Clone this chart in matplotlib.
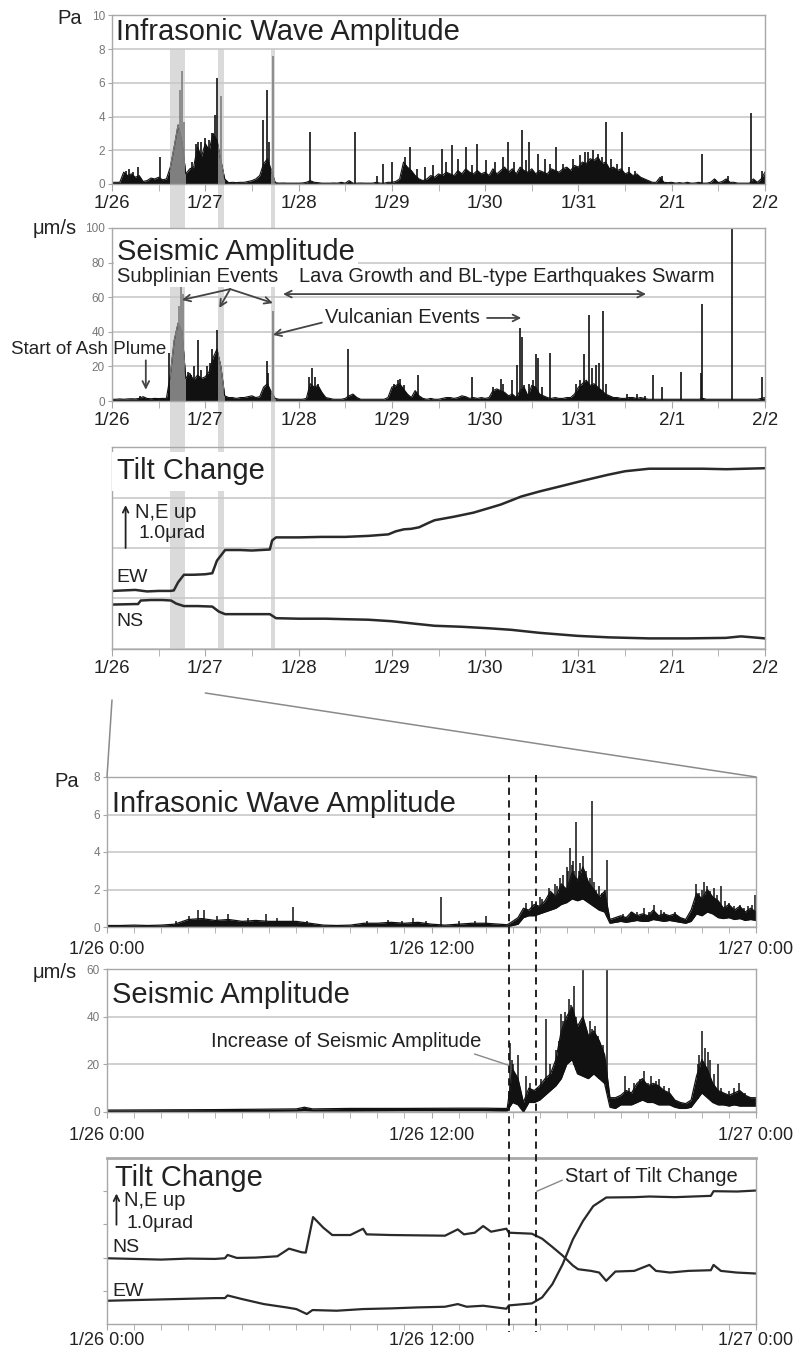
import matplotlib.pyplot as plt
import matplotlib.transforms as mtransforms
from matplotlib.patches import Rectangle, ConnectionPatch
from matplotlib.lines import Line2D
import numpy as np

plt.rcParams['font.family'] = ['Liberation Sans', 'DejaVu Sans']

W, H = 801, 1355

# ---------------- week panels: hours from 1/26 0:00 ----------------
week_ticks = [0, 24, 48, 72, 96, 120, 144, 168]
week_labels = ['1/26', '1/27', '1/28', '1/29', '1/30', '1/31', '2/1', '2/2']
bands = [(14.9, 18.9), (27.3, 28.9), (40.9, 42.0)]
week_hours = np.arange(169)

# infrasonic amplitude (Pa), hourly level of the dense trace
infra_week = [0.1, 0.1, 0.1, 0.7, 0.5, 0.6, 0.4, 0.5, 0.15, 0.2, 0.35, 0.3, 0.4, 0.25, 0.3, 1.0, 2.2, 3.5, 2.5, 0.6, 0.9, 1.0, 2.2, 1.6,
              2.4, 2.0, 3.0, 2.6, 1.4, 0.3, 0.08, 0.1, 0.08, 0.1, 0.1, 0.15, 0.2, 0.3, 0.5, 1.2, 1.5, 0.8, 0.08, 0.05, 0.06, 0.05, 0.05, 0.05,
              0.05, 0.06, 0.1, 0.2, 0.1, 0.08, 0.05, 0.05, 0.05, 0.06, 0.05, 0.1, 0.05, 0.2, 0.05, 0.05, 0.06, 0.05, 0.05, 0.05, 0.1, 0.05, 0.05, 0.1,
              0.1, 0.15, 0.3, 1.3, 1.0, 0.8, 0.5, 0.3, 0.2, 0.3, 0.5, 0.4, 0.6, 0.5, 0.7, 0.6, 0.5, 0.8, 0.6, 0.9, 0.7, 0.6, 0.8, 0.6,
              0.7, 0.5, 0.9, 0.6, 0.8, 1.0, 0.7, 0.9, 0.6, 1.0, 0.8, 0.7, 0.9, 0.6, 0.8, 0.7, 0.6, 0.9, 0.8, 0.7, 0.9, 1.0, 0.8, 1.1,
              1.0, 1.3, 1.2, 1.5, 1.4, 1.6, 1.2, 1.3, 0.9, 1.0, 0.8, 0.9, 0.6, 0.7, 0.5, 0.6, 0.4, 0.3, 0.2, 0.1, 0.1, 0.4, 0.1, 0.08,
              0.1, 0.05, 0.08, 0.05, 0.1, 0.05, 0.06, 0.1, 0.05, 0.05, 0.1, 0.3, 0.08, 0.15, 0.3, 0.1, 0.1, 0.05, 0.05, 0.05, 0.05, 0.3, 0.1, 0.3, 0.7]
infra_spike_t = [3.5, 4.5, 5.5, 6.8, 12.3, 17.5, 18.1, 18.6, 20.5, 21.5, 22.0, 23.0, 24.0, 25.0, 25.8, 26.5, 27.0, 28.0,
                 38.9, 39.8, 40.3, 41.3, 50.9, 62.5, 68.1, 69.6, 72.1, 75.5, 76.6, 78.5, 80.5, 82.5, 84.8, 86.0, 87.4,
                 89.0, 91.1, 92.5, 94.0, 96.2, 98.5, 100.5, 101.8, 103.5, 105.4, 106.5, 107.3, 109.7, 111.4, 112.8,
                 114.2, 116.1, 118.5, 120.5, 121.7, 122.5, 123.8, 125.1, 126.0, 127.1, 128.5, 130.0, 131.3, 133.0,
                 134.5, 141.4, 151.9, 155.1, 158.5, 164.5, 167.1]
infra_spike_v = [0.8, 0.9, 0.7, 1.0, 1.6, 5.6, 6.7, 3.7, 1.3, 2.4, 2.5, 2.5, 2.7, 2.6, 3.0, 4.1, 6.3, 5.2,
                 3.8, 5.6, 2.5, 7.6, 3.1, 3.1, 0.5, 1.2, 1.3, 1.6, 2.2, 0.9, 1.0, 1.1, 2.1, 1.3, 2.3,
                 1.5, 2.2, 1.1, 2.4, 1.4, 1.3, 1.6, 2.5, 1.3, 3.2, 1.4, 2.5, 1.8, 1.5, 1.2,
                 2.2, 1.2, 1.5, 1.7, 1.9, 1.9, 2.0, 1.8, 1.6, 3.7, 1.5, 1.2, 3.1, 1.0,
                 0.8, 0.5, 1.8, 0.3, 0.5, 4.2, 0.8]

# seismic amplitude (um/s), hourly level
seis_week = [1.0, 1.0, 1.2, 1.0, 1.2, 1.3, 1.2, 1.5, 2.5, 1.5, 1.3, 1.5, 1.4, 1.5, 1.5, 15, 35, 45, 40, 13, 16, 12, 15, 13,
             14, 17, 25, 30, 20, 3, 2, 2, 1.5, 2, 2, 2.5, 3, 2, 2.5, 8, 10, 5, 1.5, 1, 1, 1, 1, 1,
             1, 1, 1.5, 10, 8, 9, 5, 2, 1.5, 1, 1, 1, 1.5, 3, 4, 2, 1, 1, 1, 1, 1, 1, 1, 2,
             8, 9, 10, 7, 4, 2, 6, 3, 1.5, 1, 1.5, 1, 1, 1.5, 2, 2, 1.5, 2, 3, 2.5, 1.5, 2, 1.5, 2,
             1.5, 2, 6, 7, 6, 5, 3, 4, 2, 6, 8, 3, 9, 8, 4, 3, 2, 1.5, 2, 1.5, 1.5, 2, 2, 4,
             8, 10, 12, 9, 10, 8, 6, 4, 3, 2, 2, 1.5, 1.5, 2, 2, 1.5, 2, 1.5, 1, 1, 1, 1, 1, 1,
             1, 1, 1, 1, 1, 1, 1, 1, 1.5, 1, 1, 1, 1, 1, 1, 1, 1, 1, 1, 1, 1, 1, 1, 1.5, 2]
seis_spike_t = [7.2, 14.7, 16.6, 17.3, 17.8, 18.3, 19.5, 20.3, 21.0, 22.2, 23.0, 24.5, 25.3, 25.8, 26.9,
                39.8, 40.2, 41.3, 50.8, 51.5, 52.3, 53.0, 60.8, 72.5, 73.5, 74.2, 75.0, 78.8, 92.5, 98.0, 100.0,
                100.5, 103.0, 104.1, 104.9, 105.4, 106.0, 107.3, 108.2, 109.2, 109.6, 110.5, 112.8, 119.5, 120.5,
                121.5, 122.6, 123.6, 124.5, 125.3, 126.2, 127.2, 132.5, 135.0, 137.0, 139.2, 141.5, 146.4,
                151.5, 151.9, 159.4, 167.3]
seis_spike_v = [3, 28, 40, 55, 66, 62, 17, 15, 20, 35, 18, 20, 22, 30, 41,
                23, 16, 52, 14, 19, 14, 10, 30, 10, 12, 13, 9, 15, 14, 8, 13,
                10, 12, 21, 42, 37, 9, 10, 12, 27, 25, 8, 28, 10, 12,
                27, 50, 19, 21, 22, 52, 10, 4, 4, 3, 15, 8, 17,
                16, 56, 100, 14]

# tilt (grid units)
ew_week_t = [0, 3, 6, 9, 12, 15, 15.9, 17, 18.5, 21, 24, 25.8, 27, 29.1, 33, 36, 40.6, 41.2, 42.2, 48, 54, 60, 66, 71.1,
             73, 75.1, 77, 79, 81.5, 83, 88, 93, 97.4, 100, 103, 105.3, 110, 115.8, 121, 127.6, 132, 138.2, 145, 152, 158, 163, 168]
ew_week = [1.15, 1.16, 1.17, 1.14, 1.15, 1.15, 1.16, 1.32, 1.47, 1.47, 1.48, 1.50, 1.75, 1.96, 1.96, 1.95, 1.97, 2.15, 2.21,
           2.21, 2.22, 2.22, 2.24, 2.27, 2.33, 2.37, 2.38, 2.41, 2.50, 2.55, 2.62, 2.70, 2.80, 2.86, 2.95, 3.02, 3.12, 3.23,
           3.33, 3.45, 3.52, 3.57, 3.57, 3.57, 3.56, 3.57, 3.58]
ns_week_t = [0, 3, 6, 6.7, 7.4, 10, 13, 15.2, 16.5, 18.5, 22, 25.8, 27.5, 29.1, 34, 40.6, 42.2, 48, 55, 60, 65.9, 72, 78, 83,
             90, 97, 102.7, 110, 119.8, 128, 138.2, 148, 157.9, 161.8, 165, 168]
ns_week = [0.88, 0.885, 0.89, 0.89, 0.96, 0.97, 0.97, 0.96, 0.90, 0.85, 0.85, 0.84, 0.74, 0.69, 0.69, 0.69, 0.61, 0.60,
           0.60, 0.59, 0.58, 0.55, 0.50, 0.46, 0.44, 0.41, 0.38, 0.32, 0.26, 0.23, 0.21, 0.21, 0.22, 0.25, 0.23, 0.21]

# ---------------- day panels: hours from 1/26 0:00 ----------------
day_ticks = [0, 12, 24]
day_labels = ['1/26 0:00', '1/26 12:00', '1/27 0:00']
dashed_t = [14.85, 15.88]

infra_day_t = np.concatenate([np.arange(0, 14.6, 0.5), [14.8], np.arange(15.0, 24.01, 0.2)])
infra_day_hi = [0.08, 0.08, 0.1, 0.08, 0.1, 0.15, 0.4, 0.45, 0.35, 0.4, 0.3, 0.35, 0.3, 0.3, 0.3, 0.2, 0.1, 0.08, 0.1, 0.2,
                0.2, 0.25, 0.2, 0.25, 0.15, 0.1, 0.15, 0.2, 0.2, 0.15, 0.12,
                0.3, 0.5, 1.0, 0.9, 1.2, 1.1, 1.4, 1.9, 1.6, 2.3, 2.0, 2.9, 2.5, 3.2, 2.4, 2.0, 1.6, 1.9, 0.4, 0.5,
                0.6, 0.5, 0.8, 0.6, 0.7, 0.6, 0.9, 0.6, 0.7, 0.6, 0.7, 0.5, 0.4, 0.9, 1.8, 1.5, 2.0, 1.6, 1.4, 1.0,
                1.2, 0.9, 1.1, 0.8, 1.0, 0.8]
infra_day_lo = [0.02, 0.02, 0.02, 0.02, 0.02, 0.02, 0.05, 0.05, 0.05, 0.05, 0.05, 0.05, 0.05, 0.05, 0.05, 0.02, 0.02, 0.02,
                0.02, 0.02, 0.02, 0.02, 0.02, 0.02, 0.02, 0.02, 0.02, 0.02, 0.02, 0.02, 0.02,
                0.08, 0.15, 0.5, 0.6, 0.6, 0.7, 0.8, 0.9, 1.0, 1.2, 1.3, 1.5, 1.4, 1.5, 1.3, 1.1, 0.9, 0.8, 0.2, 0.25,
                0.3, 0.25, 0.3, 0.35, 0.3, 0.3, 0.4, 0.35, 0.3, 0.35, 0.3, 0.25, 0.2, 0.3, 0.7, 0.6, 0.8, 0.7, 0.5, 0.45,
                0.5, 0.4, 0.45, 0.35, 0.4, 0.35]
infra_day_spike_t = [2.56, 3.04, 3.36, 3.6, 4.08, 4.49, 5.2, 5.87, 6.3, 6.86, 7.39, 9.6, 10.4, 10.9, 11.3, 11.8, 12.35, 13.0,
                     13.6, 14.0, 15.3, 15.5, 15.7, 16.0, 16.1, 16.35, 16.55, 16.65, 16.75, 16.85, 17.0, 17.05, 17.12,
                     17.18, 17.22, 17.28, 17.33, 17.45, 17.5, 17.59, 17.65, 17.72, 17.77, 17.85, 17.94, 18.02, 18.1, 18.2,
                     18.3, 18.4, 18.48, 19.1, 19.37, 19.6, 19.86, 20.05, 20.23, 20.5, 20.6, 21.0, 21.7, 21.78, 21.9, 22.0,
                     22.09, 22.2, 22.3, 22.46, 22.55, 22.7, 22.85, 23.0, 23.2, 23.4, 23.55, 23.7, 23.85, 23.98]
infra_day_spike_v = [0.3, 0.6, 0.9, 0.9, 0.6, 0.7, 0.5, 0.7, 0.5, 1.05, 0.3, 0.3, 0.4, 0.3, 0.5, 0.3, 1.6, 0.3,
                     0.3, 0.6, 0.6, 1.3, 1.4, 1.6, 1.5, 2.1, 2.3, 2.2, 2.6, 2.8, 3.2, 3.0, 4.2,
                     3.3, 3.5, 3.0, 5.6, 3.0, 3.4, 3.8, 2.8, 3.0, 2.0, 2.6, 6.7, 2.4, 2.0, 2.2,
                     1.8, 2.0, 3.6, 0.7, 0.8, 0.8, 1.0, 0.8, 1.2, 0.9, 0.8, 0.8, 1.2, 2.3, 1.8, 2.0,
                     2.4, 2.2, 1.9, 2.1, 1.7, 2.2, 1.4, 1.3, 1.1, 1.2, 1.0, 1.1, 1.2, 1.7]

seis_day_t = np.concatenate([[0, 2, 4, 6, 7, 7.3, 7.6, 9, 11, 13, 14, 14.6], np.arange(14.8, 24.01, 0.2)])
seis_day_hi = [0.8, 0.9, 1.0, 1.2, 1.3, 2.0, 1.3, 1.5, 1.5, 1.6, 1.6, 1.5,
               1.5, 18, 14, 4, 10, 9, 11, 14, 16, 22, 34, 40, 44, 36, 40, 32, 34, 30, 24, 6, 6, 7, 9, 8, 12, 14,
               11, 12, 11, 9, 8, 5, 4, 3.5, 5, 15, 22, 18, 12, 9, 8, 7, 8, 9, 7, 6, 6]
seis_day_lo = [0, 0.2, 0.3, 0.4, 0.5, 0.6, 0.5, 0.5, 0.6, 0.6, 0.6, 0.5,
               0.5, 4, 3, 0, 4, 4, 5, 7, 9, 11, 14, 20, 22, 16, 15, 14, 16, 14, 12, 2, 1.5, 3, 3, 3, 4, 5,
               4, 4, 3, 3, 3, 2, 1.5, 1.5, 2, 5, 8, 6, 4, 3, 3, 2.5, 3, 2.5, 2.5, 2.5, 2.5]
seis_day_spike_t = [14.92, 14.96, 15.0, 15.08, 15.1, 15.21, 15.3, 15.51, 15.65, 15.75, 15.89, 16.05, 16.22, 16.4, 16.5,
                    16.6, 16.7, 16.78, 16.88, 16.95, 17.09, 17.15, 17.27, 17.35, 17.4, 17.5, 17.62, 17.7, 17.77, 17.85,
                    17.95, 18.05, 18.14, 18.2, 18.26, 18.35, 18.48, 19.15, 19.3, 19.5, 19.7, 19.86, 20.0, 20.1, 20.3,
                    20.4, 20.6, 20.79, 21.84, 21.9, 22.02, 22.1, 22.21, 22.3, 22.45, 22.58, 22.7, 23.0, 23.2, 23.38, 23.6]
seis_day_spike_v = [28.8, 22, 20, 12, 14, 24, 8, 15, 12, 8, 10, 14, 39, 20, 17,
                    26, 30, 41, 38, 42, 47.5, 45, 53, 40, 30, 36, 62, 34, 30, 38,
                    35, 36, 32, 30, 25, 28, 62, 15, 10, 12, 14, 17, 12, 15, 13,
                    14, 11, 10, 20, 24, 34, 27, 25, 22, 16, 20, 10, 9, 10, 12, 8]

ns_day_t = [0, 1, 2, 3, 4, 4.36, 4.46, 4.8, 5.5, 6.3, 6.73, 7.2, 7.35, 7.62, 8.0, 8.33, 9.0, 9.47, 9.6, 10.5, 11.5, 12.5,
            12.97, 13.2, 13.6, 13.91, 14.2, 14.77, 14.86, 15.71, 16.09, 16.47, 16.85, 17.23, 17.42, 17.9, 18.2, 18.46,
            18.8, 19.5, 20.06, 20.3, 20.82, 21.5, 22.33, 22.43, 22.7, 23.28, 24]
ns_day = [1.98, 1.96, 1.94, 1.97, 1.96, 1.98, 2.08, 1.99, 2.0, 2.04, 2.27, 2.16, 2.15, 3.22, 2.9, 2.68, 2.68, 2.87, 2.7,
          2.68, 2.67, 2.66, 2.85, 2.7, 2.75, 2.95, 2.78, 2.87, 2.75, 2.72, 2.57, 2.32, 2.06, 1.76, 1.65, 1.6, 1.55, 1.3,
          1.58, 1.6, 1.78, 1.6, 1.55, 1.6, 1.62, 1.78, 1.6, 1.55, 1.52]
ew_day_t = [0, 1, 2, 3, 4, 4.36, 4.46, 5.0, 5.8, 6.63, 7.0, 7.39, 7.6, 8.5, 9.47, 10.5, 11.5, 12.5, 12.97, 13.3, 13.91,
            14.77, 14.86, 15.71, 16.09, 16.47, 16.85, 17.23, 17.6, 17.98, 18.46, 19.5, 20.06, 21, 22.33, 22.43, 23.3, 24]
ew_day = [0.70, 0.72, 0.74, 0.76, 0.78, 0.78, 0.86, 0.75, 0.6, 0.5, 0.45, 0.30, 0.42, 0.40, 0.45, 0.47, 0.50, 0.52,
          0.60, 0.52, 0.55, 0.46, 0.56, 0.62, 0.80, 1.20, 1.80, 2.55, 3.1, 3.55, 3.81, 3.82, 3.84, 3.82, 3.86, 4.0, 3.99, 4.02]

# ---------------- drawing ----------------
black = '#111111'
gray_data = '#7f7f7f'
band_c = '#dadada'
grid_c = '#c8c8c8'
spine_c = '#a8a8a8'
txt_c = '#222222'

fig = plt.figure(figsize=(W / 100, H / 100), dpi=100)


def add_ax(l, t, r, b):
    ax = fig.add_axes([l / W, 1 - b / H, (r - l) / W, (b - t) / H])
    ax.set_facecolor('none')
    ax.set_axisbelow(True)
    for s in ax.spines.values():
        s.set_color(spine_c)
        s.set_linewidth(1.0)
    return ax


def fig_text(x, y, s, **kw):
    fig.text(x / W, 1 - y / H, s, color=txt_c, **kw)


ax1 = add_ax(112, 15.3, 765, 184)
ax2 = add_ax(112, 228, 765, 401)
ax3 = add_ax(112, 447, 765, 649)
ax4 = add_ax(107, 777, 756, 927)
ax5 = add_ax(107, 969, 756, 1112)
ax6 = add_ax(107, 1158, 756, 1324)

for ax in (ax1, ax2, ax3):
    ax.set_xlim(0, 168)
    ax.set_xticks(week_ticks)
    ax.set_xticklabels(week_labels)
    ax.set_xticks(np.arange(12, 168, 24), minor=True)
    ax.tick_params(axis='x', which='both', direction='out', length=5, color=spine_c,
                   labelsize=13.5, pad=3, labelcolor=txt_c)

for ax, pad in ((ax4, 6), (ax5, 7), (ax6, 2)):
    ax.set_xlim(0, 24)
    ax.set_xticks(day_ticks)
    ax.set_xticklabels(day_labels)
    ax.set_xticks(np.arange(1, 24), minor=True)
    ax.tick_params(axis='x', which='both', direction='out', length=4, color=spine_c,
                   labelsize=13, pad=pad, labelcolor=txt_c)

for ax, top, step in ((ax1, 10, 2), (ax2, 100, 20), (ax4, 8, 2), (ax5, 60, 20)):
    ax.set_ylim(0, top)
    ax.set_yticks(np.arange(0, top + 1, step))
    ax.tick_params(axis='y', direction='out', length=3, color=spine_c, labelsize=8.5,
                   labelcolor='#777777', pad=2)
    ax.grid(axis='y', color=grid_c, lw=1.2)

ax3.set_ylim(0, 4)
ax3.set_yticks([0, 1, 2, 3, 4])
ax3.set_yticklabels([])
ax3.tick_params(axis='y', length=0)
ax3.grid(axis='y', color=grid_c, lw=1.2)

ax6.set_ylim(0, 5)
ax6.set_yticks([1, 2, 3, 4])
ax6.set_yticklabels([])
ax6.tick_params(axis='y', direction='out', length=3, color=spine_c)
ax6.spines['top'].set_linewidth(2)

# shaded eruption bands behind the three week panels
blend_w = mtransforms.blended_transform_factory(ax1.transData, fig.transFigure)
for a, b in bands:
    for y_top, y_bot in ((49, 228), (287, 649)):
        fig.add_artist(Rectangle((a, 1 - y_bot / H), b - a, (y_bot - y_top) / H,
                                 transform=blend_w, color=band_c, lw=0, zorder=-1))


def in_band(t):
    return any(a <= t <= b for a, b in bands)


def week_trace(ax, level, spike_t, spike_v, top):
    ax.fill_between(week_hours, 0, level, color=black, lw=0)
    ax.plot(week_hours, level, color=black, lw=0.8)
    for a, b in bands:
        clip = Rectangle((a, -1), b - a, top + 2, transform=ax.transData)
        p = ax.fill_between(week_hours, 0, level, color=gray_data, lw=0)
        p.set_clip_path(clip)
        ln, = ax.plot(week_hours, level, color=gray_data, lw=0.8)
        ln.set_clip_path(clip)
    cols = [gray_data if in_band(t) else black for t in spike_t]
    ax.vlines(spike_t, 0, spike_v, colors=cols, lw=1.2)


week_trace(ax1, infra_week, infra_spike_t, infra_spike_v, 10)
week_trace(ax2, seis_week, seis_spike_t, seis_spike_v, 100)

ax3.plot(ew_week_t, ew_week, color='#2a2a2a', lw=1.8)
ax3.plot(ns_week_t, ns_week, color='#2a2a2a', lw=1.8)


def day_trace(ax, t, lo, hi, spike_t, spike_v):
    ax.fill_between(t, lo, hi, color=black, lw=0)
    ax.plot(t, hi, color=black, lw=0.9)
    ax.plot(t, lo, color=black, lw=0.9)
    base = np.interp(spike_t, t, lo)
    ax.vlines(spike_t, base, spike_v, colors=black, lw=1.1)


day_trace(ax4, infra_day_t, infra_day_lo, infra_day_hi, infra_day_spike_t, infra_day_spike_v)
day_trace(ax5, seis_day_t, seis_day_lo, seis_day_hi, seis_day_spike_t, seis_day_spike_v)
ax6.plot(ns_day_t, ns_day, color='#2a2a2a', lw=1.6)
ax6.plot(ew_day_t, ew_day, color='#2a2a2a', lw=1.6)

# titles and labels
title_kw = dict(fontsize=21, color=txt_c, va='center', ha='left')
ax1.text(0.006, 0.90, 'Infrasonic Wave Amplitude', transform=ax1.transAxes, **title_kw)
ax2.text(0.008, 0.86, 'Seismic Amplitude', transform=ax2.transAxes,
         bbox=dict(fc='white', ec='none', pad=2), **title_kw)
ax3.text(0.008, 0.88, 'Tilt Change', transform=ax3.transAxes,
         bbox=dict(fc='white', ec='none', pad=4), **title_kw)
ax4.text(0.008, 0.82, 'Infrasonic Wave Amplitude', transform=ax4.transAxes, **title_kw)
ax5.text(0.008, 0.82, 'Seismic Amplitude', transform=ax5.transAxes, **title_kw)
ax6.text(0.012, 0.88, 'Tilt Change', transform=ax6.transAxes, **title_kw)

fig_text(82, 18, 'Pa', fontsize=14.5, ha='right', va='center')
fig_text(77, 229, 'μm/s', fontsize=14.5, ha='right', va='center')
fig_text(79, 782, 'Pa', fontsize=14.5, ha='right', va='center')
fig_text(77, 972, 'μm/s', fontsize=14.5, ha='right', va='center')

# annotations on week seismic panel
ann = dict(fontsize=14.5, color=txt_c, va='center')
arr = dict(arrowstyle='->', color='#444444', lw=1.3, shrinkA=0, shrinkB=0, mutation_scale=12)
ax2.text(1.3, 71.7, 'Subplinian Events', ha='left', **ann)
for tx, ty in ((18.0, 58.4), (27.6, 53.8), (41.4, 56.6)):
    ax2.annotate('', xy=(tx, ty), xytext=(30.4, 64.7), arrowprops=arr)
ax2.text(48.1, 71.7, 'Lava Growth and BL-type Earthquakes Swarm', ha='left', **ann)
ax2.annotate('', xy=(44.0, 61.8), xytext=(137.4, 61.8),
             arrowprops=dict(arr, arrowstyle='<->'))
ax2.text(54.8, 48.0, 'Vulcanian Events', ha='left', **ann)
ax2.annotate('', xy=(41.4, 38.2), xytext=(54.0, 45.3), arrowprops=arr)
ax2.annotate('', xy=(105.3, 48.0), xytext=(96.5, 48.0), arrowprops=arr)
ax2.text(-26, 29.5, 'Start of Ash Plume', ha='left', clip_on=False,
         fontsize=13.5, color=txt_c, va='center')
ax2.annotate('', xy=(8.7, 6.5), xytext=(8.7, 23.5), arrowprops=arr)

# tilt week annotations
ax3.annotate('', xy=(3.5, 2.85), xytext=(3.5, 2.0),
             arrowprops=dict(arrowstyle='->', color=txt_c, lw=1.3, shrinkA=0, shrinkB=0))
fig_text(135, 512, 'N,E up', fontsize=14.5, ha='left', va='center')
fig_text(138, 533, '1.0μrad', fontsize=14, ha='left', va='center')
fig_text(116, 578, 'EW', fontsize=14, ha='left', va='center')
fig_text(116, 622, 'NS', fontsize=14, ha='left', va='center')

# day panel annotations
ax5.text(8.84, 29.4, 'Increase of Seismic Amplitude', ha='center', **ann)
ax5.plot([13.6, 14.83], [24.3, 19.7], color='#888888', lw=1)
ax6.text(16.95, 4.44, 'Start of Tilt Change', ha='left', **ann)
ax6.plot([16.83, 15.9], [4.33, 4.0], color='#888888', lw=1)
ax6.annotate('', xy=(0.35, 3.93), xytext=(0.35, 2.99),
             arrowprops=dict(arrowstyle='->', color=txt_c, lw=1.3, shrinkA=0, shrinkB=0))
fig_text(124, 1201, 'N,E up', fontsize=14.5, ha='left', va='center')
fig_text(127, 1223, '1.0μrad', fontsize=14, ha='left', va='center')
fig_text(112, 1248, 'NS', fontsize=14, ha='left', va='center')
fig_text(112, 1292, 'EW', fontsize=14, ha='left', va='center')

# dashed event lines across the day panels
blend_d = mtransforms.blended_transform_factory(ax4.transData, fig.transFigure)
for t in dashed_t:
    fig.add_artist(Line2D([t, t], [1 - 775 / H, 1 - 1332 / H], transform=blend_d,
                          color=black, lw=1.3, dashes=(4, 3), zorder=5))

# zoom connector lines from the week tilt panel to the day panels
blend_w3 = mtransforms.blended_transform_factory(ax3.transData, fig.transFigure)
for t0, y0 in ((0, 700), (24, 693)):
    fig.add_artist(ConnectionPatch(xyA=(t0, 1 - y0 / H), coordsA=blend_w3,
                                   xyB=(t0, 8), coordsB=ax4.transData,
                                   color='#8a8a8a', lw=1.1))

fig.savefig('out.png', dpi=100)
